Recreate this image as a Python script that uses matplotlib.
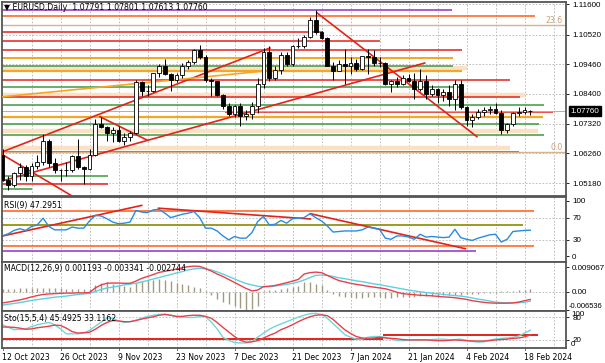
import numpy as np
import matplotlib.pyplot as plt
from matplotlib.patches import Rectangle

W, H = 605, 363

# ---- EURUSD daily candles ----
opens = [1.0620, 1.0530, 1.0510, 1.0555, 1.0575, 1.0545, 1.0580, 1.0595, 1.0670, 1.0590,
         1.0565, 1.0565, 1.0565, 1.0615, 1.0575, 1.0570, 1.0620, 1.0730, 1.0720, 1.0700,
         1.0710, 1.0670, 1.0685, 1.0700, 1.0880, 1.0850, 1.0850, 1.0915, 1.0940, 1.0910,
         1.0890, 1.0905, 1.0940, 1.0955, 1.0995, 1.0970, 1.0890, 1.0885, 1.0835, 1.0795,
         1.0765, 1.0795, 1.0760, 1.0765, 1.0795, 1.0875, 1.0990, 1.0895, 1.0925, 1.0980,
         1.0945, 1.1010, 1.1010, 1.1045, 1.1105, 1.1060, 1.1040, 1.0940, 1.0920, 1.0945,
         1.0940, 1.0950, 1.0930, 1.0975, 1.0970, 1.0950, 1.0950, 1.0875, 1.0885, 1.0875,
         1.0895, 1.0885, 1.0855, 1.0885, 1.0840, 1.0855, 1.0835, 1.0845, 1.0820, 1.0875,
         1.0790, 1.0745, 1.0755, 1.0775, 1.0780, 1.0785, 1.0770, 1.0710, 1.0730, 1.0770,
         1.0775, 1.07791]
highs = [1.0640, 1.0545, 1.0560, 1.0590, 1.0585, 1.0590, 1.0620, 1.0695, 1.0675, 1.0610,
         1.0570, 1.0595, 1.0620, 1.0675, 1.0580, 1.0640, 1.0750, 1.0755, 1.0725, 1.0720,
         1.0725, 1.0700, 1.0705, 1.0890, 1.0885, 1.0870, 1.0915, 1.0945, 1.0965, 1.0915,
         1.0915, 1.0950, 1.0960, 1.1000, 1.1015, 1.0980, 1.0895, 1.0885, 1.0840, 1.0805,
         1.0800, 1.0805, 1.0780, 1.0810, 1.0895, 1.1005, 1.1010, 1.0940, 1.0990, 1.0990,
         1.1015, 1.1040, 1.1050, 1.1115, 1.1140, 1.1065, 1.1045, 1.0955, 1.0960, 1.1000,
         1.0970, 1.0965, 1.0975, 1.1000, 1.0995, 1.0970, 1.0955, 1.0890, 1.0900, 1.0905,
         1.0910, 1.0915, 1.0930, 1.0905, 1.0870, 1.0860, 1.0855, 1.0870, 1.0890, 1.0890,
         1.0795, 1.0765, 1.0785, 1.0790, 1.0795, 1.0805, 1.0780, 1.0735, 1.0775, 1.0790,
         1.0790, 1.07801]
lows = [1.0525, 1.0495, 1.0505, 1.0530, 1.0525, 1.0525, 1.0570, 1.0585, 1.0575, 1.0555,
        1.0525, 1.0545, 1.0560, 1.0570, 1.0515, 1.0565, 1.0615, 1.0715, 1.0670, 1.0665,
        1.0665, 1.0655, 1.0670, 1.0695, 1.0830, 1.0830, 1.0845, 1.0900, 1.0905, 1.0850,
        1.0880, 1.0895, 1.0930, 1.0945, 1.0965, 1.0880, 1.0830, 1.0830, 1.0785, 1.0760,
        1.0755, 1.0725, 1.0745, 1.0750, 1.0770, 1.0860, 1.0885, 1.0890, 1.0910, 1.0940,
        1.0940, 1.1005, 1.1005, 1.1040, 1.1055, 1.1035, 1.0940, 1.0890, 1.0920, 1.0875,
        1.0910, 1.0920, 1.0925, 1.0910, 1.0940, 1.0935, 1.0870, 1.0845, 1.0865, 1.0870,
        1.0880, 1.0820, 1.0850, 1.0820, 1.0830, 1.0805, 1.0815, 1.0795, 1.0780, 1.0785,
        1.0725, 1.0720, 1.0750, 1.0760, 1.0765, 1.0765, 1.0695, 1.0700, 1.0725, 1.0760,
        1.0765, 1.07613]
closes = [1.0530, 1.0510, 1.0555, 1.0575, 1.0545, 1.0580, 1.0595, 1.0670, 1.0590, 1.0565,
          1.0565, 1.0565, 1.0615, 1.0575, 1.0570, 1.0620, 1.0730, 1.0720, 1.0700, 1.0710,
          1.0670, 1.0685, 1.0700, 1.0880, 1.0850, 1.0850, 1.0915, 1.0940, 1.0910, 1.0890,
          1.0905, 1.0940, 1.0955, 1.0995, 1.0970, 1.0890, 1.0885, 1.0835, 1.0795, 1.0765,
          1.0795, 1.0760, 1.0765, 1.0795, 1.0875, 1.0990, 1.0895, 1.0925, 1.0980, 1.0945,
          1.1010, 1.1010, 1.1045, 1.1105, 1.1060, 1.1040, 1.0940, 1.0920, 1.0945, 1.0940,
          1.0950, 1.0930, 1.0975, 1.0970, 1.0950, 1.0950, 1.0875, 1.0885, 1.0875, 1.0895,
          1.0885, 1.0855, 1.0885, 1.0840, 1.0855, 1.0835, 1.0845, 1.0820, 1.0875, 1.0790,
          1.0745, 1.0755, 1.0775, 1.0780, 1.0785, 1.0770, 1.0710, 1.0730, 1.0770, 1.0775,
          1.0780, 1.07760]

# ---- indicators ----
rsi = [37, 41, 47, 50, 47, 54, 57, 69, 54, 48, 48, 48, 53, 51, 51, 64, 74, 73, 68, 62,
       59, 60, 62, 83, 80, 79, 84, 85, 78, 70, 73, 76, 78, 81, 70, 51, 51, 46, 37, 30,
       36, 33, 33, 43, 63, 72, 57, 58, 65, 60, 68, 69, 70, 77, 70, 64, 55, 44, 45, 46,
       46, 46, 48, 53, 51, 49, 33, 31, 37, 37, 35, 31, 40, 35, 36, 35, 34, 35, 49, 34,
       31, 29, 33, 36, 39, 40, 26, 31, 45, 46, 47, 47.3]

macd_main = [-0.0040, -0.0037, -0.0033, -0.0029, -0.0024, -0.0018, -0.0013, -0.0009, -0.0007, -0.0006,
             -0.0005, -0.0004, -0.0004, -0.0003, -0.0003, -0.0002, 0.0015, 0.0026, 0.0032, 0.0033,
             0.0033, 0.0032, 0.0032, 0.0040, 0.0050, 0.0057, 0.0064, 0.0072, 0.0076, 0.0080,
             0.0084, 0.0089, 0.0093, 0.0095, 0.0094, 0.0086, 0.0077, 0.0066, 0.0057, 0.0046,
             0.0035, 0.0024, 0.0013, 0.0004, 0.0007, 0.0020, 0.0021, 0.0024, 0.0029, 0.0034,
             0.0040, 0.0046, 0.0066, 0.0071, 0.0073, 0.0071, 0.0061, 0.0051, 0.0042, 0.0037,
             0.0032, 0.0028, 0.0025, 0.0021, 0.0018, 0.0015, 0.0012, 0.0006, -0.0001, -0.0006,
             -0.0008, -0.0010, -0.0012, -0.0013, -0.0014, -0.0016, -0.0018, -0.0019, -0.0021, -0.0024,
             -0.0027, -0.0032, -0.0035, -0.0038, -0.0040, -0.0041, -0.0041, -0.0041, -0.0040, -0.0037,
             -0.0032, -0.002744]
macd_signal = [-0.0048, -0.0045, -0.0042, -0.0039, -0.0035, -0.0031, -0.0028, -0.0025, -0.0022, -0.0019,
               -0.0017, -0.0015, -0.0012, -0.0009, -0.0007, -0.0005, 0.0002, 0.0009, 0.0015, 0.0018,
               0.0022, 0.0026, 0.0029, 0.0032, 0.0037, 0.0042, 0.0048, 0.0053, 0.0059, 0.0064,
               0.0070, 0.0075, 0.0081, 0.0085, 0.0087, 0.0085, 0.0081, 0.0074, 0.0066, 0.0057,
               0.0048, 0.0039, 0.0031, 0.0026, 0.0021, 0.0019, 0.0020, 0.0022, 0.0025, 0.0028,
               0.0032, 0.0037, 0.0044, 0.0053, 0.0061, 0.0062, 0.0061, 0.0057, 0.0052, 0.0049,
               0.0045, 0.0041, 0.0038, 0.0034, 0.0030, 0.0027, 0.0023, 0.0019, 0.0015, 0.0011,
               0.0007, 0.0004, 0.0001, -0.0002, -0.0004, -0.0007, -0.0009, -0.0011, -0.0013, -0.0015,
               -0.0018, -0.0022, -0.0026, -0.0029, -0.0033, -0.0037, -0.0039, -0.0040, -0.0040, -0.0039,
               -0.0038, -0.003341]
macd_hist = [0.0010, 0.0012, 0.0011, 0.0013, 0.0014, 0.0015, 0.0016, 0.0016, 0.0015, 0.0014,
             0.0013, 0.0012, 0.0012, 0.0011, 0.0011, 0.0010, 0.0026, 0.0034, 0.0035, 0.0030,
             0.0025, 0.0023, 0.0019, 0.0032, 0.0040, 0.0044, 0.0045, 0.0046, 0.0044, 0.0040,
             0.0034, 0.0028, 0.0024, 0.0020, 0.0014, 0.0002, -0.0010, -0.0025, -0.0035, -0.0045,
             -0.0052, -0.0060, -0.0065, -0.0063, -0.0050, 0.0004, 0.0006, 0.0008, 0.0012, 0.0016,
             0.0020, 0.0022, 0.0035, 0.0038, 0.0030, 0.0025, 0.0008, -0.0008, -0.0014, -0.0018,
             -0.0020, -0.0021, -0.0022, -0.0020, -0.0019, -0.0018, -0.0022, -0.0022, -0.0020, -0.0019,
             -0.0018, -0.0017, -0.0016, -0.0015, -0.0014, -0.0013, -0.0012, -0.0012, -0.0011, -0.0010,
             -0.0009, -0.0008, -0.0006, -0.0005, -0.0003, -0.0002, 0.0002, 0.0003, 0.0005, 0.0006,
             0.0009, 0.001193]

sto_k = [60, 53, 47, 48, 49, 55, 60, 63, 66, 60, 49, 36, 36, 36, 38, 45, 56, 67, 77, 77,
         70, 66, 68, 72, 77, 82, 85, 87, 88, 85, 81, 80, 79, 79, 82, 81, 67, 49, 27, 19,
         13, 12, 12, 16, 27, 38, 48, 56, 62, 68, 74, 80, 85, 89, 90, 87, 77, 63, 49, 34,
         27, 22, 22, 27, 29, 29, 27, 23, 19, 18, 19, 20, 20, 20, 21, 22, 22, 20, 21, 22,
         19, 16, 14, 15, 20, 22, 24, 25, 27, 30, 38, 45.5]
sto_d = [54, 54, 53, 51, 48, 49, 52, 54, 56, 59, 58, 51, 42, 38, 39, 40, 48, 58, 66, 71,
         70, 68, 68, 71, 75, 78, 81, 85, 87, 85, 82, 82, 84, 85, 85, 82, 77, 66, 53, 41,
         29, 19, 14, 15, 18, 25, 32, 38, 47, 53, 60, 68, 75, 81, 85, 86, 84, 74, 60, 47,
         37, 29, 25, 24, 25, 27, 25, 24, 23, 21, 20, 20, 20, 20, 19, 18, 18, 19, 20, 19,
         18, 17, 17, 17, 18, 20, 21, 22, 24, 25, 28, 33.1]

x_labels = ['12 Oct 2023', '26 Oct 2023', '9 Nov 2023', '23 Nov 2023', '7 Dec 2023',
            '21 Dec 2023', '7 Jan 2024', '21 Jan 2024', '4 Feb 2024', '18 Feb 2024']
x_label_bars = [0, 10, 20, 30, 40, 50, 60, 70, 80, 90]
price_ticks = [1.11600, 1.10520, 1.09460, 1.08400, 1.07320, 1.06260, 1.05180]
last_price = 1.07760

# horizontal objects on the price chart: (price, bar start, bar end, colour, width)
RED, GREEN, ORANGE, GOLD, PEACH = '#e2231a', '#3f9a3f', '#ff6a2a', '#f5a623', '#fbe0c4'
h_lines = [
    (1.11410, -1, 77.5, '#9b3fc8', 1.2),
    (1.11169, -1, 91.8, ORANGE, 1.2),
    (1.10605, -1, 55.3, RED, 1.1),
    (1.10306, -1, 65.1, RED, 1.1),
    (1.09972, -1, 79.2, RED, 1.1),
    (1.09670, -1, 77.6, GOLD, 1.4),
    (1.09408, -1, 77.7, GREEN, 1.1),
    (1.09203, -1, 79.2, GOLD, 1.6),
    (1.08898, -1, 87.5, RED, 1.1),
    (1.08628, -1, 79.2, GREEN, 1.1),
    (1.08269, -1, 89.2, RED, 1.1),
    (1.08007, -1, 93.4, GREEN, 1.1),
    (1.07755, 38.4, 94.9, RED, 1.1),
    (1.07550, -1, 93.2, GOLD, 1.6),
    (1.07313, -1, 92.5, GREEN, 1.1),
    (1.06918, -1, 93.4, GREEN, 1.1),
    (1.06318, -1, 89.0, RED, 1.1),
    (1.05456, -1, 18.2, GREEN, 1.1),
    (1.05157, -1, 18.2, RED, 1.1),
    (1.04978, -1, 5.0, GREEN, 1.1),
]
bands = [(1.09320, -1, 80.0), (1.08366, -1, 90.0), (1.07073, -1, 92.3), (1.06462, -1, 87.5)]
fib_levels = [(1.10881, '23.6'), (1.06290, '0.0')]

# trend lines: (bar0, price0, bar1, price1, colour)
trend_lines = [
    (-0.1, 1.06301, 46.1, 1.10037, RED),
    (-0.1, 1.05259, 72.8, 1.09498, RED),
    (54.2, 1.11305, 81.8, 1.06851, RED),
    (-0.4, 1.06254, 12.2, 1.04695, RED),
    (16.8, 1.07569, 24.9, 1.06731, RED),
    (-0.4, 1.08277, 46.1, 1.09229, GOLD),
]
# RSI window objects
rsi_levels = [(82, 91.6, ORANGE), (57, 89.8, '#8c8a00'), (18, 91.6, ORANGE), (9.5, 81.6, '#9b3fc8')]
rsi_trends = [(-0.4, 36, 24.0, 92), (26.9, 87, 53.1, 67.5), (53.1, 77, 79.8, 14)]
sto_levels = [(23.6, -1, 65.6), (32.5, 65.6, 92.3)]

n = len(closes)
bars = np.arange(n)
XMIN, XMAX = (2 - 2.5) / 5.8, (566 - 2.5) / 5.8
NUMFONT = 'Liberation Sans'

fig = plt.figure(figsize=(W / 100, H / 100), dpi=100)
fig.patch.set_facecolor('white')


def panel(top, bottom):
    ax = fig.add_axes([2 / W, 1 - bottom / H, 564 / W, (bottom - top) / H])
    ax.set_xlim(XMIN, XMAX)
    ax.set_facecolor('white')
    for s in ax.spines.values():
        s.set_color('#555555')
        s.set_linewidth(1.3)
    ax.set_xticks([])
    ax.yaxis.tick_right()
    ax.tick_params(axis='y', labelsize=5.8, length=2.5, width=0.6, pad=2, colors='black')
    for b in range(5, 100, 5):
        ax.axvline(b, color='#b4b4b4', lw=0.6, ls=(0, (2, 2)), zorder=0)
    return ax


def right_label(ypix, txt, x=571, size=5.8):
    # tick text placed by pixel row where the terminal clamps it to the window edge
    fig.text(x / W, 1 - ypix / H, txt, fontsize=size, family=NUMFONT, va='center', ha='left')


# ---- main price chart ----
ax = panel(2, 196)
ax.set_ylim(1.1160 - 191.5 / 2783.5, 1.1160 + 2.5 / 2783.5)
ax.set_yticks(price_ticks)
ax.set_yticklabels(['%.5f' % p for p in price_ticks], family=NUMFONT)
for p in price_ticks:
    ax.axhline(p, color='#b4b4b4', lw=0.6, ls=(0, (2, 2)), zorder=0)

for p, b0, b1 in bands:
    ax.hlines(p, b0, b1, color=PEACH, lw=3.2, zorder=1)
for p, b0, b1, c, w in h_lines:
    ax.hlines(p, b0, b1, color=c, lw=w, zorder=2)
for p, lab in fib_levels:
    ax.hlines(p, -1, 100, color='#d8b48c', lw=1.0, zorder=2)
    ax.text(96.6, p, lab, ha='right', va='bottom', fontsize=5.6, color='#c8a078')
for b0, p0, b1, p1, c in trend_lines:
    ax.plot([b0, b1], [p0, p1], color=c, lw=1.2, zorder=3)

ax.axhline(last_price, color='#b0b0b0', lw=0.7, zorder=2)

# candles
for i in range(n):
    o, hi, lo, c = opens[i], highs[i], lows[i], closes[i]
    ax.vlines(i, lo, hi, color='black', lw=0.7, zorder=4)
    face = 'white' if c >= o else 'black'
    ax.add_patch(Rectangle((i - 0.32, min(o, c)), 0.64, max(abs(c - o), 0.00004),
                           facecolor=face, edgecolor='black', lw=0.6, zorder=5))

ax.text(1.008, last_price, '%.5f' % last_price, transform=ax.get_yaxis_transform(),
        fontsize=5.8, family=NUMFONT, color='white', va='center', ha='left',
        bbox=dict(boxstyle='square,pad=0.2', fc='black', ec='black'))
ax.text(0.3, 1.1151, u'\u25bc EURUSD,Daily  1.07791 1.07801 1.07613 1.07760',
        fontsize=5.6, va='center', ha='left', color='black')

# ---- RSI ----
ax2 = panel(197, 262)
ax2.set_ylim(-5 / 56 * 100 - 1, 100 + 4 / 56 * 100)
ax2.set_yticks([100, 70, 30, 0])
ax2.set_yticklabels(['100', '70', '30', '0'], family=NUMFONT)
for lv in [70, 30]:
    ax2.axhline(lv, color='#b4b4b4', lw=0.6, ls=(0, (2, 2)), zorder=0)
for v, b1, c in rsi_levels:
    ax2.hlines(v, -1, b1, color=c, lw=1.2)
for b0, v0, b1, v1 in rsi_trends:
    ax2.plot([b0, b1], [v0, v1], color=RED, lw=1.2)
ax2.plot(bars, rsi, color='#2a8ce0', lw=1.0)
ax2.text(0.3, 92, 'RSI(9) 47.2951', fontsize=5.6, va='center')

# ---- MACD ----
ax3 = panel(262, 311)
ax3.set_ylim(-(311 - 292) / 2724, (292 - 262) / 2724)
ax3.set_yticks([0.009067, 0.0, -0.006536])
ax3.set_yticklabels(['0.009067', '0.00', ''], family=NUMFONT)
right_label(306.0, '-0.006536', x=569, size=5.4)
ax3.axhline(0, color='#b4b4b4', lw=0.6, ls=(0, (2, 2)), zorder=0)
ax3.vlines(bars, 0, macd_hist, color='#a09a80', lw=1.0)
ax3.plot(bars, macd_signal, color='#5fd0e0', lw=1.0)
ax3.plot(bars, macd_main, color='#e8404a', lw=1.0)
ax3.text(0.3, 0.0088, 'MACD(12,26,9) 0.001193 -0.003341 -0.002744', fontsize=5.6, va='center')

# ---- Stochastic ----
ax4 = panel(311, 348)
ax4.set_ylim((348.5 - 348) / -0.39, (348.5 - 311) / 0.39)
ax4.set_yticks([80, 20])
ax4.set_yticklabels(['80', '20'], family=NUMFONT)
right_label(314.0, '100')
right_label(344.5, '0')
for lv in [80, 20]:
    ax4.axhline(lv, color='#b4b4b4', lw=0.6, ls=(0, (2, 2)), zorder=0)
for v, b0, b1 in sto_levels:
    ax4.hlines(v, b0, b1, color=RED, lw=1.4)
ax4.plot(bars, sto_k, color='#6fd8d8', lw=1.0)
ax4.plot(bars, sto_d, color='#e8404a', lw=1.0)
ax4.text(0.3, 76, 'Sto(15,5,4) 45.4925 33.1162', fontsize=5.6, va='center')

# date labels under the last window
for b, lab in zip(x_label_bars, x_labels):
    ax4.text(b - 0.1, -0.25, lab, transform=ax4.get_xaxis_transform(),
             fontsize=5.6, ha='left', va='center')
    ax4.plot([b, b], [0, -0.06], transform=ax4.get_xaxis_transform(),
             color='#555555', lw=0.6, clip_on=False)

fig.savefig('out.png', dpi=100)
